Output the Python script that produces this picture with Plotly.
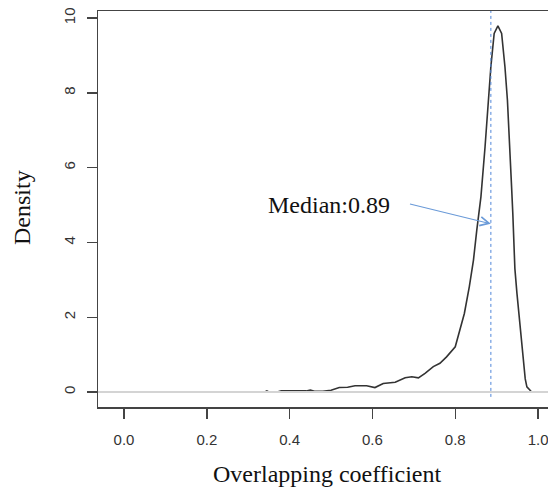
import plotly.graph_objects as go

# Density curve
ovl_x = [0.34, 0.345, 0.35, 0.37, 0.38, 0.40, 0.41, 0.44, 0.45, 0.46, 0.48, 0.50,
         0.52, 0.54, 0.558, 0.586, 0.606, 0.626, 0.655, 0.679, 0.695, 0.711, 0.727,
         0.747, 0.763, 0.779, 0.800, 0.812, 0.822, 0.834, 0.844, 0.852, 0.862, 0.872,
         0.880, 0.886, 0.894, 0.903, 0.912, 0.920, 0.926, 0.932, 0.936, 0.939, 0.944,
         0.949, 0.957, 0.962, 0.965, 0.969, 0.973, 0.983]
density_y = [0.0, 0.03, 0.0, 0.0, 0.03, 0.03, 0.02, 0.03, 0.05, 0.02, 0.02, 0.05,
             0.12, 0.13, 0.17, 0.17, 0.12, 0.23, 0.26, 0.38, 0.41, 0.38, 0.50,
             0.68, 0.77, 0.94, 1.21, 1.66, 2.10, 2.82, 3.53, 4.33, 5.22, 6.56,
             7.81, 8.70, 9.59, 9.79, 9.59, 8.70, 7.81, 6.60, 5.50, 4.78, 3.30,
             2.64, 1.75, 1.10, 0.68, 0.35, 0.14, 0.02]

median_val = 0.886
median_label = "Median:0.89"
x_ticks = [0.0, 0.2, 0.4, 0.6, 0.8, 1.0]
x_tick_text = ["0.0", "0.2", "0.4", "0.6", "0.8", "1.0"]
y_ticks = [0, 2, 4, 6, 8, 10]
y_tick_text = ["0", "2", "4", "6", "8", "10"]

x_range = [-0.0628, 1.024]
y_range = [-0.40, 10.19]

fig = go.Figure()
fig.add_trace(go.Scatter(x=ovl_x, y=density_y, mode="lines",
                         line=dict(color="#333333", width=1.6), showlegend=False,
                         hoverinfo="skip"))

# zero line (gray, drawn over curve like R)
fig.add_shape(type="line", xref="paper", yref="y", x0=0, x1=1, y0=0, y1=0,
              line=dict(color="#d4d4d4", width=2), layer="above")
# median dotted line
fig.add_shape(type="line", xref="x", yref="y", x0=median_val, x1=median_val,
              y0=-0.13, y1=y_range[1], line=dict(color="#4f86d9", width=1, dash="dot"),
              layer="above")

serif = "Liberation Serif, Times New Roman, serif"
sans = "Liberation Sans, Arial, sans-serif"

fig.add_annotation(x=0.495, y=5.0, xref="x", yref="y", text=median_label,
                   showarrow=False, font=dict(family=serif, size=24, color="#111111"),
                   xanchor="center", yanchor="middle")
fig.add_annotation(x=median_val, y=4.5, ax=0.687, ay=5.04, xref="x", yref="y",
                   axref="x", ayref="y", text="", showarrow=True, arrowhead=5,
                   arrowsize=1.6, arrowwidth=1.1, arrowcolor="#6a9ad8")

fig.add_annotation(x=0.508, y=-0.169, xref="paper", yref="paper",
                   text="Overlapping coefficient", showarrow=False,
                   font=dict(family=serif, size=24, color="#111111"),
                   xanchor="center", yanchor="middle")
fig.add_annotation(x=-0.169, y=0.505, xref="paper", yref="paper",
                   text="Density", textangle=-90, showarrow=False,
                   font=dict(family=serif, size=24, color="#111111"),
                   xanchor="center", yanchor="middle")

fig.update_layout(
    width=548, height=489,
    margin=dict(l=98, r=0, t=11, b=82),
    paper_bgcolor="white", plot_bgcolor="white",
    showlegend=False,
)
fig.update_xaxes(range=x_range, tickvals=x_ticks, ticktext=x_tick_text,
                 showgrid=False, zeroline=False, showline=True, mirror=True,
                 linecolor="#444444", linewidth=1.5, ticks="outside", ticklen=10,
                 tickwidth=1.5, tickcolor="#444444", ticklabelstandoff=8,
                 ticklabeloverflow="allow",
                 tickfont=dict(family=sans, size=15, color="#333333"))
fig.update_yaxes(range=y_range, tickvals=y_ticks, ticktext=y_tick_text,
                 showgrid=False, zeroline=False, showline=True, mirror=False,
                 linecolor="#444444", linewidth=1.5, ticks="outside", ticklen=10,
                 tickwidth=1.5, tickcolor="#444444", tickangle=-90,
                 ticklabelstandoff=6,
                 tickfont=dict(family=sans, size=15, color="#333333"))

fig.write_html("out.html", config={"displayModeBar": False, "staticPlot": True})

# remove the default browser body margin so the figure fills the window
with open("out.html", "r", encoding="utf-8") as f:
    html = f.read()
html = html.replace("<body>", '<body style="margin:0;overflow:hidden">', 1)
with open("out.html", "w", encoding="utf-8") as f:
    f.write(html)
